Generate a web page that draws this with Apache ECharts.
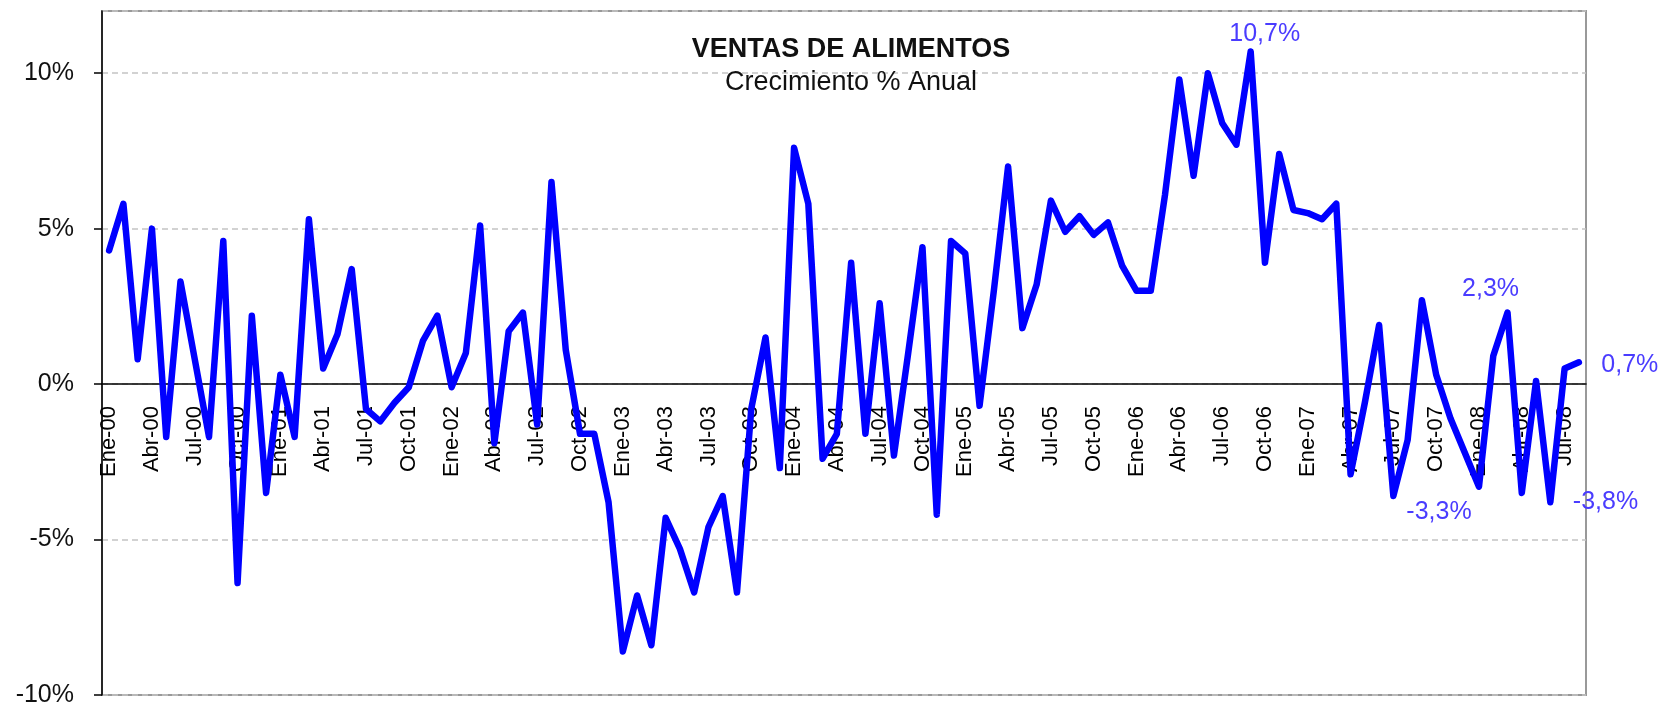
<!DOCTYPE html>
<html>
<head>
<meta charset="utf-8">
<script src="https://cdn.jsdelivr.net/npm/echarts@6/dist/echarts.min.js"></script>
<style>
	html, body { margin: 0; padding: 0; background: #fff; }
	#main { width: 1675px; height: 705px; }
</style>
</head>
<body>
<div id="main"></div>
<script>
// meses y años del eje
var meses = ['Ene', 'Feb', 'Mar', 'Abr', 'May', 'Jun', 'Jul', 'Ago', 'Sep', 'Oct', 'Nov', 'Dic'];
var anios = ['00', '01', '02', '03', '04', '05', '06', '07', '08'];
var nMeses = 104; // Ene-00 .. Ago-08

// crecimiento % anual
var crecimiento = [
	4.3, 5.8, 0.8, 5.0, -1.7, 3.3, 0.8, -1.7, 4.6, -6.4, 2.2, -3.5,
	0.3, -1.7, 5.3, 0.5, 1.6, 3.7, -0.8, -1.2, -0.6, -0.1, 1.4, 2.2,
	-0.1, 1.0, 5.1, -1.9, 1.7, 2.3, -1.3, 6.5, 1.1, -1.6, -1.6, -3.8,
	-8.6, -6.8, -8.4, -4.3, -5.3, -6.7, -4.6, -3.6, -6.7, -0.8, 1.5, -2.7,
	7.6, 5.8, -2.4, -1.6, 3.9, -1.6, 2.6, -2.3, 1.0, 4.4, -4.2, 4.6,
	4.2, -0.7, 3.0, 7.0, 1.8, 3.2, 5.9, 4.9, 5.4, 4.8, 5.2, 3.8,
	3.0, 3.0, 6.1, 9.8, 6.7, 10.0, 8.4, 7.7, 10.7, 3.9, 7.4, 5.6,
	5.5, 5.3, 5.8, -2.9, -0.6, 1.9, -3.6, -1.8, 2.7, 0.3, -1.1, -2.2,
	-3.3, 0.9, 2.3, -3.5, 0.1, -3.8, 0.5, 0.7
];

// puntos con etiqueta
var etiquetados = [80, 98, 96, 101, 103];

var categorias = [];
for (var i = 0; i < nMeses; i++) {
	categorias.push(meses[i % 12] + '-' + anios[Math.floor(i / 12)]);
}

function fmt(v) {
	return v.toFixed(1).replace('.', ',') + '%';
}

// estilo de cada etiqueta
var estiloEtiqueta = {
	80: { position: 'top', distance: 4, offset: [14, 0] },
	98: { position: 'top', distance: 10, offset: [-17, 0] },
	96: { position: 'bottom', distance: 12, offset: [-40, 0] },
	101: { position: 'right', distance: 22, offset: [0, 0] },
	103: { position: 'right', distance: 22, offset: [0, 3] }
};

var datos = crecimiento.map(function(v, i) {
	if (etiquetados.indexOf(i) < 0) return v;
	var e = estiloEtiqueta[i];
	return {
		value: v,
		label: {
			show: true,
			position: e.position,
			distance: e.distance,
			offset: e.offset,
			formatter: function(p) { return fmt(p.value); },
			color: '#4a3cff',
			fontSize: 25,
			fontFamily: 'Liberation Sans'
		}
	};
});

// geometria del area de trazado
var gTop = 11, gBottom = 10, yMin = -10, yMax = 12;
var altoGrid = 705 - gTop - gBottom;
// desplazamiento del eje x hasta la linea del 0%
var offsetCero = -(altoGrid * (0 - yMin) / (yMax - yMin));

var myChart = echarts.init(document.getElementById('main'));

var option = {
	backgroundColor: '#fff',
	animation: false,
	title: [{
		text: 'VENTAS DE ALIMENTOS',
		left: 846,
		top: 31,
		textAlign: 'center',
		textStyle: {
			fontFamily: 'Liberation Sans',
			fontWeight: 'bold',
			fontSize: 27,
			color: '#111'
		}
	}, {
		text: 'Crecimiento % Anual',
		left: 846,
		top: 64,
		textAlign: 'center',
		textStyle: {
			fontFamily: 'Liberation Sans',
			fontWeight: 'normal',
			fontSize: 27,
			color: '#111'
		}
	}],
	grid: {
		left: 102,
		right: 89,
		top: gTop,
		bottom: gBottom,
		outerBoundsMode: 'none',
		containLabel: false,
		show: true,
		borderColor: '#999',
		borderWidth: 2
	},
	xAxis: {
		type: 'category',
		data: categorias,
		boundaryGap: true,
		offset: offsetCero,
		axisLine: { onZero: false, lineStyle: { color: '#000', width: 1.5 } },
		axisTick: { interval: 2, length: 7, lineStyle: { color: '#000', width: 1.5 } },
		axisLabel: {
			interval: 2,
			rotate: 90,
			margin: 22,
			fontSize: 22,
			fontFamily: 'Liberation Sans',
			color: '#000'
		},
		splitLine: { show: false }
	},
	yAxis: {
		type: 'value',
		min: yMin,
		max: yMax,
		interval: 5,
		axisLine: { show: true, lineStyle: { color: '#000', width: 1.5 } },
		axisTick: { show: true, length: 8, lineStyle: { color: '#000', width: 1.5 } },
		axisLabel: {
			showMaxLabel: false,
			margin: 28,
			fontSize: 25,
			fontFamily: 'Liberation Sans',
			color: '#111',
			formatter: function(v) { return v + '%'; }
		},
		splitLine: {
			show: true,
			lineStyle: { color: '#c4c4c4', type: [6, 4], width: 1.5 }
		}
	},
	series: [{
		name: 'Crecimiento % Anual',
		type: 'line',
		data: datos,
		symbol: 'circle',
		symbolSize: 1,
		showSymbol: true,
		showAllSymbol: true,
		itemStyle: { color: '#0000ff' },
		lineStyle: { color: '#0000ff', width: 6.5, join: 'round', cap: 'round' },
		z: 3
	}]
};

myChart.setOption(option);
</script>
</body>
</html>
